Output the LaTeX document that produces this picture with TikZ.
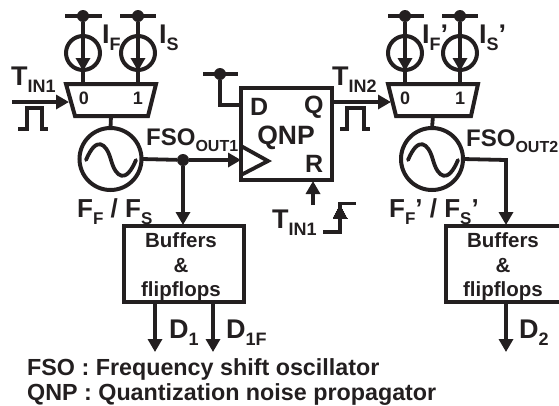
\documentclass[tikz,border=0pt]{standalone}
\usepackage{fontspec}
\setmainfont{Liberation Sans}[BoldFont={Liberation Sans Bold}]
\usetikzlibrary{arrows.meta,shapes.geometric}
\definecolor{ink}{HTML}{231F20}
\newcommand{\sbs}[2]{{\fontsize{27}{27}\selectfont #1}{\fontsize{18}{18}\selectfont\raisebox{-7pt}{#2}}}
\newcommand{\sbl}[2]{{\fontsize{24}{24}\selectfont #1}{\fontsize{16}{16}\selectfont\raisebox{-6pt}{#2}}}
\newcommand{\sbf}[2]{{\fontsize{26}{26}\selectfont #1}{\fontsize{17}{17}\selectfont\raisebox{-7pt}{#2}}}
\newcommand{\bigtxt}[1]{{\fontsize{26}{26}\selectfont #1}}
\tikzset{
  wire/.style={draw=ink,line width=3.8pt},
  arr/.style={wire,-{Triangle[length=13pt,width=14pt]}},
  blk/.style={draw=ink,line width=4pt,inner sep=0pt,outer sep=0pt},
  src/.style={blk,circle,minimum size=34pt},
  osc/.style={blk,circle,minimum size=62pt},
  mux/.style={draw=ink,line width=4pt,line join=miter},
  dotn/.style={circle,fill=ink,inner sep=0pt,minimum size=12pt},
  lab/.style={text=ink,font=\bfseries,inner sep=0pt,anchor=base west},
  muxl/.style={lab,anchor=base,font=\bfseries\fontsize{18}{18}\selectfont},
  buf/.style={lab,anchor=base,font=\bfseries\fontsize{20.5}{20.5}\selectfont},
  qlab/.style={lab,font=\bfseries\fontsize{25}{25}\selectfont},
  captext/.style={lab,font=\bfseries\fontsize{23.3}{23.3}\selectfont},
}
\begin{document}
\begin{tikzpicture}[x=1pt,y=-1pt]
\useasboundingbox (0,0) rectangle (559,405);
\clip (0,0) rectangle (559,405);
% left stage
\coordinate (m1tl) at (66,84); \coordinate (m1tr) at (156,84); \coordinate (m1br) at (148,116); \coordinate (m1bl) at (75,116); \coordinate (m1b) at (111,116);
\draw[mux] (m1tl) -- (m1tr) -- (m1br) -- (m1bl) -- cycle;
\node[src] (s1) at (83,53) {};
\node[src] (s2) at (138,53) {};
\node[dotn] (v1) at (83,16) {};
\node[dotn] (v2) at (138,16) {};
\coordinate (v1l) at (65,16); \coordinate (v1r) at (102,16);
\coordinate (v2l) at (120,16); \coordinate (v2r) at (156,16);
\draw[wire] (v1l) -- (v1r); \draw[wire] (v2l) -- (v2r);
\coordinate (a1) at (83,71); \coordinate (a2) at (138,71);
\coordinate (b1) at (83,84); \coordinate (b2) at (138,84);
\draw[arr] (v1) -- (a1); \draw[arr] (v2) -- (a2);
\draw[wire] (a1) -- (b1); \draw[wire] (a2) -- (b2);
\node[osc] (o1) at (110.5,159) {};
\draw[wire] (m1b) -- (o1.north);
\coordinate (t1) at (12,102); \coordinate (t1e) at (69,102);
\draw[arr] (t1) -- (t1e);
% right stage
\coordinate (m2tl) at (388,84); \coordinate (m2tr) at (478,84); \coordinate (m2br) at (471,116); \coordinate (m2bl) at (396,116); \coordinate (m2b) at (433,116);
\draw[mux] (m2tl) -- (m2tr) -- (m2br) -- (m2bl) -- cycle;
\node[src] (s3) at (405,53) {};
\node[src] (s4) at (460,53) {};
\node[dotn] (v3) at (405,16) {};
\node[dotn] (v4) at (460,16) {};
\coordinate (v3l) at (388,16); \coordinate (v3r) at (424,16);
\coordinate (v4l) at (442,16); \coordinate (v4r) at (478,16);
\draw[wire] (v3l) -- (v3r); \draw[wire] (v4l) -- (v4r);
\coordinate (a3) at (405,71); \coordinate (a4) at (460,71);
\coordinate (b3) at (405,84); \coordinate (b4) at (460,84);
\draw[arr] (v3) -- (a3); \draw[arr] (v4) -- (a4);
\draw[wire] (a3) -- (b3); \draw[wire] (a4) -- (b4);
\node[osc] (o2) at (432,159) {};
\draw[wire] (m2b) -- (o2.north);
% QNP
\node[blk,minimum width=91pt,minimum height=92pt] (q) at (286.5,134) {};
\coordinate (ck1) at (241,146); \coordinate (ck2) at (268,161); \coordinate (ck3) at (241,175);
\draw[draw=ink,line width=3.8pt,line join=miter] (ck1) -- (ck2) -- (ck3);
\node[dotn] (vd) at (220,74) {};
\coordinate (vdl) at (203,74); \coordinate (vdr) at (238,74); \coordinate (dk) at (220,105); \coordinate (di) at (241,105);
\draw[wire] (vdl) -- (vdr);
\draw[wire,line join=miter] (vd) -- (dk) -- (di);
\coordinate (qo) at (332,102); \coordinate (qe) at (391,102);
\draw[arr] (qo) -- (qe);
% outputs
\node[blk,minimum width=120pt,minimum height=76pt] (b) at (184,264) {};
\node[blk,minimum width=120pt,minimum height=76pt] (bb) at (506,264) {};
\node[dotn] (j) at (183,160) {};
\coordinate (cki) at (241,160);
\draw[wire] (o1.east) -- (j);
\draw[arr] (j) -- (cki);
\coordinate (bi) at (183,225);
\draw[arr] (j) -- (bi);
\coordinate (c2) at (506,160); \coordinate (bbi) at (506,225);
\draw[arr,line join=miter] (o2.east) -- (c2) -- (bbi);
\coordinate (d1s) at (155,302); \coordinate (d1e) at (155,352);
\coordinate (d2s) at (213,302); \coordinate (d2e) at (213,352);
\coordinate (d3s) at (506,302); \coordinate (d3e) at (506,352);
\draw[arr] (d1s) -- (d1e); \draw[arr] (d2s) -- (d2e); \draw[arr] (d3s) -- (d3e);
% R
\coordinate (rs) at (313,205); \coordinate (re) at (313,181);
\draw[wire,-{Triangle[length=13pt,width=14pt]}] (rs) -- (re);
% edge
\coordinate (e1) at (323,232); \coordinate (e2) at (340,232); \coordinate (e3) at (340,203.5); \coordinate (e4) at (356,203.5);
\draw[wire,line join=miter] (e1) -- (e2) -- (e3) -- (e4);
\draw[draw=ink,fill=ink,line width=0pt] (340,205) -- (333,218) -- (347,218) -- cycle;
% pulses
\draw[wire,line join=miter] (18,129) -- (27,129) -- (27,108) -- (42,108) -- (42,129) -- (48,129);
\draw[wire,line join=miter] (340,129) -- (347,129) -- (347,108) -- (364,108) -- (364,129) -- (370,129);
% sine
\draw[draw=ink,line width=3.8pt,line cap=round] (86,160) .. controls (96,136) and (106,142) .. (111,160) .. controls (116,178) and (126,184) .. (136,160);
\draw[draw=ink,line width=3.8pt,line cap=round] (408,160) .. controls (418,136) and (428,142) .. (433,160) .. controls (438,178) and (448,184) .. (458,160);
% labels
\node[lab] (lt1) at (11,85) {\sbs{T}{IN1}};
\node[lab] (lif) at (102,43) {\sbs{I}{F}};
\node[lab] (lis) at (159,43) {\sbs{I}{S}};
\node[muxl] (l0) at (84,104) {0};
\node[muxl] (l1) at (138,104) {1};
\node[muxl] (l2) at (405,104) {0};
\node[muxl] (l3) at (460,104) {1};
\node[lab] (lfso1) at (146,145) {\sbl{FSO}{OUT1}};
\node[lab] (lfso2) at (466,146) {\sbl{FSO}{OUT2}};
\node[lab] (lff) at (77,217) {\sbf{F}{F}\bigtxt{ / }\sbf{F}{S}};
\node[lab] (lff2) at (389,217) {\sbf{F}{F}\bigtxt{’ / }\sbf{F}{S}\bigtxt{’}};
\node[lab] (lt2) at (332,85) {\sbs{T}{IN2}};
\node[lab] (lif2) at (422,43) {\sbs{I}{F}{\fontsize{27}{27}\selectfont ’}};
\node[lab] (lis2) at (479,43) {\sbs{I}{S}{\fontsize{27}{27}\selectfont ’}};
\node[lab] (lt3) at (272,228) {\sbs{T}{IN1}};
\node[qlab] (ld) at (250,115) {D};
\node[qlab] (lq) at (304,113) {Q};
\node[qlab] (lr) at (305,172) {R};
\node[lab,anchor=base,font=\bfseries\fontsize{26.5}{26.5}\selectfont] (lqnp) at (286,144) {QNP};
\node[buf] at (181,247) {Buffers};
\node[buf] at (181,272) {\&};
\node[buf] at (181,296) {flipflops};
\node[buf] at (503,247) {Buffers};
\node[buf] at (503,272) {\&};
\node[buf] at (503,296) {flipflops};
\node[lab] (ld1) at (169,338) {\sbs{D}{1}};
\node[lab] (ld1f) at (226,338) {\sbs{D}{1F}};
\node[lab] (ld2) at (519,338) {\sbs{D}{2}};
\node[captext] (c1) at (27,375) {FSO : Frequency shift oscillator};
\node[captext] (c2t) at (27,400) {QNP : Quantization noise propagator};
\end{tikzpicture}
\end{document}
